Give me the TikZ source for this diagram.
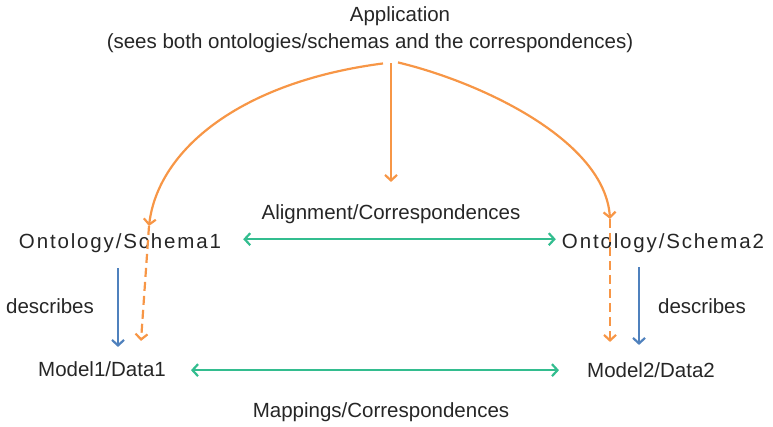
\documentclass[tikz,border=0pt]{standalone}
\usepackage{fontspec}
\setmainfont{Liberation Sans}
\newfontfamily\spacedfont[LetterSpace=9]{Liberation Sans}
\usetikzlibrary{arrows.meta}
\definecolor{appOrange}{HTML}{F79646}
\definecolor{descBlue}{HTML}{4F81BD}
\definecolor{corrGreen}{HTML}{33BD8F}
\definecolor{txtGray}{HTML}{262626}
\begin{document}
\begin{tikzpicture}[x=1pt,y=-1pt,>={Straight Barb[length=5.5pt,width=12pt]}]
\tikzset{lbl/.style={anchor=base,inner sep=0pt,text=txtGray,font=\fontsize{20.5pt}{24pt}\selectfont},
  uses/.style={->,appOrange,line width=2.2pt}, usesdash/.style={uses,dash pattern=on 9pt off 5pt},
  descr/.style={->,descBlue,line width=2.2pt}, corr/.style={<->,corrGreen,line width=2.2pt}}
\useasboundingbox (0,0) rectangle (773,427);
\node[lbl](app1) at (400,22) {Application};
\node[lbl](app2) at (370,49) {(sees both ontologies/schemas and the correspondences)};
\node[lbl,font=\fontsize{20.5pt}{24pt}\spacedfont](onto1) at (120,249) {Ontology/Schema1};
\node[lbl,font=\fontsize{20.5pt}{24pt}\spacedfont](onto2) at (663,249) {Ontology/Schema2};
\node[lbl](align) at (391,220) {Alignment/Correspondences};
\node[lbl](model1) at (102,376) {Model1/Data1}; \node[lbl](model2) at (651,377) {Model2/Data2};
\node[lbl](desc1) at (50,313) {describes}; \node[lbl](desc2) at (702,313) {describes};
\node[lbl](mapp) at (381,417) {Mappings/Correspondences};
\coordinate (k1) at (149,226); \coordinate (k2) at (610,219);
% application sees everything
\draw[uses] ([shift={(13,10)}]app2.south) .. controls (240,82) and (158,150) .. (k1);
\draw[uses] ([shift={(28,9)}]app2.south) .. controls (480,82) and (605,140) .. (k2);
\draw[uses] ([shift={(21,10)}]app2.south) -- ([shift={(0,-23)}]align.north);
\draw[usesdash] (k1) -- ([shift={(39,-20)}]model1.north);
\draw[usesdash] (k2) -- ([shift={(-41,-20)}]model2.north);
% schema describes data
\draw[descr] ([shift={(-2,15)}]onto1.south) -- ([shift={(16,-14)}]model1.north);
\draw[descr] ([shift={(-24,14)}]onto2.south) -- ([shift={(-12,-17)}]model2.north);
% correspondences
\draw[corr] ([shift={(22,-4.5)}]onto1.east) -- ([shift={(-6,-4.5)}]onto2.west);
\draw[corr] ([shift={(25,1.5)}]model1.east) -- ([shift={(-28,0.5)}]model2.west);
\end{tikzpicture}
\end{document}
